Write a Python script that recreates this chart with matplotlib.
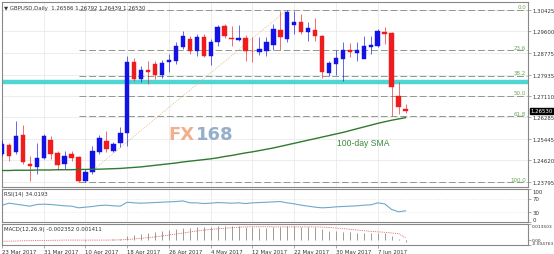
import numpy as np
import matplotlib
matplotlib.use("Agg")
import matplotlib.pyplot as plt
from matplotlib.patches import Rectangle

# ---- GBPUSD daily data ----
date_labels = ["23 Mar 2017", "31 Mar 2017", "10 Apr 2017", "18 Apr 2017", "26 Apr 2017",
               "4 May 2017", "12 May 2017", "22 May 2017", "30 May 2017", "7 Jun 2017"]
date_idx = [0, 6, 12, 18, 24, 30, 36, 42, 48, 54]

opens = [1.2487, 1.2521, 1.2494, 1.2560, 1.2448, 1.2436, 1.2471, 1.2541, 1.2491, 1.2448,
         1.2487, 1.2475, 1.2382, 1.2417, 1.2494, 1.2537, 1.2498, 1.2529, 1.2568, 1.2842,
         1.2776, 1.2811, 1.2834, 1.2792, 1.2842, 1.2846, 1.2900, 1.2931, 1.2884, 1.2938,
         1.2865, 1.2919, 1.2981, 1.2934, 1.2927, 1.2934, 1.2886, 1.2880, 1.2884, 1.2907,
         1.2965, 1.2931, 1.2985, 1.2996, 1.2958, 1.2965, 1.2942, 1.2799, 1.2834, 1.2853,
         1.2888, 1.2877, 1.2853, 1.2900, 1.2904, 1.2958, 1.2954, 1.2711, 1.26586]
highs = [1.2540, 1.2530, 1.2614, 1.2599, 1.2479, 1.2529, 1.2564, 1.2556, 1.2498, 1.2498,
         1.2498, 1.2479, 1.2429, 1.2518, 1.2560, 1.2575, 1.2533, 1.2591, 1.2865, 1.2857,
         1.2826, 1.2846, 1.2846, 1.2850, 1.2873, 1.2919, 1.2961, 1.2942, 1.2950, 1.2950,
         1.2930, 1.2985, 1.2988, 1.2981, 1.2985, 1.2946, 1.2938, 1.2938, 1.2938, 1.2988,
         1.3040, 1.3044, 1.3039, 1.3027, 1.2996, 1.3012, 1.2946, 1.2846, 1.2888, 1.2919,
         1.2915, 1.2919, 1.2942, 1.2942, 1.2969, 1.2977, 1.2958, 1.2765, 1.26792]
lows = [1.2478, 1.2460, 1.2487, 1.2448, 1.2382, 1.2409, 1.2467, 1.2467, 1.2425, 1.2429,
        1.2460, 1.2378, 1.2380, 1.2409, 1.2487, 1.2494, 1.2494, 1.2514, 1.2518, 1.2768,
        1.2765, 1.2757, 1.2776, 1.2780, 1.2803, 1.2834, 1.2892, 1.2873, 1.2865, 1.2861,
        1.2830, 1.2904, 1.2934, 1.2904, 1.2923, 1.2846, 1.2842, 1.2869, 1.2865, 1.2888,
        1.2888, 1.2919, 1.2950, 1.2950, 1.2923, 1.2923, 1.2780, 1.2788, 1.2792, 1.2768,
        1.2861, 1.2846, 1.2873, 1.2873, 1.2900, 1.2911, 1.2633, 1.2641, 1.26439]
closes = [1.2525, 1.2479, 1.2556, 1.2456, 1.2440, 1.2471, 1.2556, 1.2487, 1.2444, 1.2479,
          1.2471, 1.2384, 1.2417, 1.2498, 1.2548, 1.2506, 1.2525, 1.2568, 1.2842, 1.2776,
          1.2811, 1.2803, 1.2792, 1.2838, 1.2850, 1.2904, 1.2942, 1.2884, 1.2938, 1.2865,
          1.2919, 1.2977, 1.2942, 1.2931, 1.2934, 1.2884, 1.2883, 1.2892, 1.2919, 1.2969,
          1.2938, 1.3035, 1.2996, 1.2958, 1.2973, 1.2942, 1.2803, 1.2838, 1.2857, 1.2888,
          1.2880, 1.2888, 1.2904, 1.2907, 1.2961, 1.2950, 1.2745, 1.2668, 1.26530]

sma100 = [1.2423, 1.2423, 1.2424, 1.2424, 1.2424, 1.2425, 1.2425, 1.2425, 1.2426, 1.2426,
          1.2426, 1.2427, 1.2427, 1.2428, 1.2428, 1.2429, 1.2430, 1.2431, 1.2433, 1.2435,
          1.2437, 1.2440, 1.2443, 1.2446, 1.2449, 1.2452, 1.2456, 1.2459, 1.2462, 1.2465,
          1.2468, 1.2472, 1.2477, 1.2481, 1.2486, 1.2491, 1.2495, 1.2500, 1.2505, 1.2510,
          1.2516, 1.2522, 1.2528, 1.2534, 1.2540, 1.2546, 1.2552, 1.2558, 1.2564, 1.2570,
          1.2577, 1.2584, 1.2591, 1.2598, 1.2605, 1.2611, 1.2617, 1.2622, 1.2627]

rsi14 = [51, 57, 54, 51, 48, 53, 54, 53, 51, 49,
         48, 43, 45, 47, 50, 51, 49, 48, 60, 58,
         57, 58, 59, 60, 61, 62, 64, 58, 58, 56,
         57, 59, 58, 57, 58, 56, 58, 59, 60, 61,
         62, 58, 55, 51, 48, 45, 43, 44, 46, 47,
         48, 49, 51, 52, 58, 55, 38, 31, 34.0193]

macd_main = [-0.0010, -0.0008, -0.0006, -0.0005, -0.0006, -0.0005, -0.0003, -0.0002, -0.0003, -0.0003,
             -0.0003, -0.0008, -0.0009, -0.0006, -0.0002, 0.0000, 0.0002, 0.0005, 0.0028, 0.0040,
             0.0052, 0.0060, 0.0066, 0.0074, 0.0081, 0.0090, 0.0100, 0.0103, 0.0108, 0.0107,
             0.0109, 0.0115, 0.0117, 0.0118, 0.0118, 0.0113, 0.0108, 0.0104, 0.0103, 0.0107,
             0.0107, 0.0116, 0.0116, 0.0113, 0.0111, 0.0106, 0.0089, 0.0078, 0.0071, 0.0068,
             0.0063, 0.0059, 0.0057, 0.0055, 0.0058, 0.0058, 0.0032, 0.0005, -0.002352]
macd_signal = [-0.0015, -0.0014, -0.0013, -0.0011, -0.0010, -0.0009, -0.0008, -0.0007, -0.0006, -0.0005,
               -0.0005, -0.0005, -0.0005, -0.0005, -0.0005, -0.0005, -0.0004, -0.0003, 0.0000, 0.0005,
               0.0010, 0.0017, 0.0023, 0.0031, 0.0039, 0.0047, 0.0057, 0.0066, 0.0074, 0.0082,
               0.0088, 0.0093, 0.0098, 0.0103, 0.0107, 0.0110, 0.0111, 0.0111, 0.0111, 0.0110,
               0.0110, 0.0110, 0.0110, 0.0110, 0.0110, 0.0110, 0.0108, 0.0105, 0.0100, 0.0095,
               0.0089, 0.0083, 0.0077, 0.0071, 0.0067, 0.0063, 0.0057, 0.0051, 0.001411]

fib_ratios = [0.0, 23.6, 38.2, 50.0, 61.8, 100.0]
fib_high, fib_low = 1.3044, 1.2378
fib_start, fib_end = 11, 41
resistance = 1.2764
price_ticks = [1.30425, 1.29600, 1.28775, 1.27935, 1.27110, 1.26285, 1.25445, 1.24620, 1.23795]
last_price = 1.26530

# ---- layout (pixel boxes) ----
W, H = 554, 255
fig = plt.figure(figsize=(W / 100, H / 100), dpi=100)
plt.rcParams['font.family'] = ['DejaVu Sans']


def panel(l, t, r, b):
    return fig.add_axes([l / W, 1 - b / H, (r - l) / W, (b - t) / H])


ax = panel(2, 3, 528, 188)
ax_rsi = panel(2, 190, 528, 223)
ax_macd = panel(2, 225, 528, 246)

n = len(closes)
x = np.arange(n)
XMIN, XMAX = 0.1, 75.6
GRID = '#e6e6e6'
FRAME = '#888888'
TXT = '#333333'
FS = 3.9

for a in (ax, ax_rsi, ax_macd):
    a.set_xlim(XMIN, XMAX)
    for s in a.spines.values():
        s.set_color(FRAME)
        s.set_linewidth(0.8)
    a.yaxis.tick_right()
    a.tick_params(axis='y', length=2, width=0.5, color=FRAME, labelsize=FS,
                  labelcolor=TXT, pad=1.5)
    a.set_xticks(date_idx)
    a.grid(True, color=GRID, lw=0.5)
    a.set_axisbelow(True)

ax.tick_params(axis='x', length=0, labelbottom=False)
ax_rsi.tick_params(axis='x', length=0, labelbottom=False)
ax_macd.tick_params(axis='x', length=2, width=0.5, color=FRAME, labelsize=FS,
                    labelcolor=TXT, pad=1)
ax_macd.set_xticklabels(date_labels, ha='left')

# ---- price panel ----
ax.set_ylim(1.23593, 1.30734)
ax.set_yticks(price_ticks)
ax.set_yticklabels([f"{p:.5f}" for p in price_ticks])

BULL, BEAR = '#1212e6', '#ee1c1c'
bw = 0.64
for i in range(n):
    o, h, l, c = opens[i], highs[i], lows[i], closes[i]
    col = BULL if c >= o else BEAR
    ax.vlines(x[i], l, h, color=col, lw=0.6, alpha=0.75, zorder=3)
    lo, hi = min(o, c), max(o, c)
    ax.add_patch(Rectangle((x[i] - bw / 2, lo), bw, max(hi - lo, 0.00012),
                           facecolor=col, edgecolor=col, lw=0.3, zorder=4))

# resistance band
ax.axhline(resistance, color='#4fd6d2', lw=3.2, zorder=2)

# Fibonacci retracement
rng = fib_high - fib_low
for r in fib_ratios:
    lvl = fib_high - rng * r / 100.0
    ax.plot([fib_start, XMAX - 0.1], [lvl, lvl], color='#8c9a8c', lw=0.7,
            dashes=(7, 3), zorder=2)
    ax.text(XMAX - 0.25, lvl + 0.0002, f"{r:.1f}", color='#6aa84f', fontsize=4.0,
            ha='right', va='bottom', zorder=5)
ax.plot([fib_start, fib_end], [fib_low, fib_high], color='#e3b27c', lw=0.6,
        ls=(0, (1, 1.5)), zorder=2)

# 100-day SMA
ax.plot(x, sma100, color='#2f7a2f', lw=1.0, zorder=5)
ax.text(48.2, 1.2530, "100-day SMA", color='#3a8a3a', fontsize=6.2,
        family='Liberation Sans', ha='left', va='center')

# watermark
ax.text(23.9, 1.2565, "FX", color='#f0a784', fontsize=13, fontweight='bold',
        ha='left', va='center', alpha=0.9, zorder=1)
ax.text(27.9, 1.2565, "168", color='#8aa6c4', fontsize=13, fontweight='bold',
        ha='left', va='center', alpha=0.9, zorder=1)

# header
ax.text(0.004, 0.985, "\u25BC GBPUSD,Daily  1.26586 1.26792 1.26439 1.26530",
        transform=ax.transAxes, fontsize=FS, color=TXT, ha='left', va='top')

# last price marker
ax.annotate(f"{last_price:.5f}", xy=(1.0, last_price), xycoords=('axes fraction', 'data'),
            xytext=(2, 0), textcoords='offset points', fontsize=FS, color='white',
            ha='left', va='center',
            bbox=dict(boxstyle='square,pad=0.15', fc='black', ec='black'))

# ---- RSI panel ----
ax_rsi.set_ylim(0, 100)
ax_rsi.set_yticks([100, 70, 30, 0])
ax_rsi.set_yticklabels(['100', '70', '30', '0'])
for lbl, va in zip(ax_rsi.get_yticklabels(), ['top', 'center', 'center', 'bottom']):
    lbl.set_va(va)
ax_rsi.axhline(70, color=GRID, lw=0.5, ls=(0, (2, 2)))
ax_rsi.axhline(30, color=GRID, lw=0.5, ls=(0, (2, 2)))
ax_rsi.plot(x, rsi14, color='#6fa8c8', lw=0.8)
ax_rsi.text(0.004, 0.93, f"RSI(14) {rsi14[-1]:.4f}", transform=ax_rsi.transAxes,
            fontsize=FS, color=TXT, ha='left', va='top')
ax_rsi.grid(axis='y', visible=False)

# ---- MACD panel ----
ax_macd.set_ylim(-0.004763, 0.013503)
ax_macd.set_yticks([0.013503, 0.0, -0.004763])
ax_macd.set_yticklabels(['0.013503', '0.00', '-0.004763'])
ax_macd.tick_params(axis='y', labelsize=3.2, pad=0.6)
for lbl, va in zip(ax_macd.get_yticklabels(), ['top', 'center', 'bottom']):
    lbl.set_va(va)
ax_macd.vlines(x, 0, macd_main, color='#9a9a9a', lw=0.7)
ax_macd.plot(x, macd_signal, color='#e05050', lw=0.6, ls=(0, (1, 1.2)))
ax_macd.text(0.004, 0.9, f"MACD(12,26,9) {macd_main[-1]:.6f} {macd_signal[-1]:.6f}",
             transform=ax_macd.transAxes, fontsize=FS, color=TXT, ha='left', va='top')
ax_macd.grid(axis='y', visible=False)

fig.savefig("out.png", dpi=100)
